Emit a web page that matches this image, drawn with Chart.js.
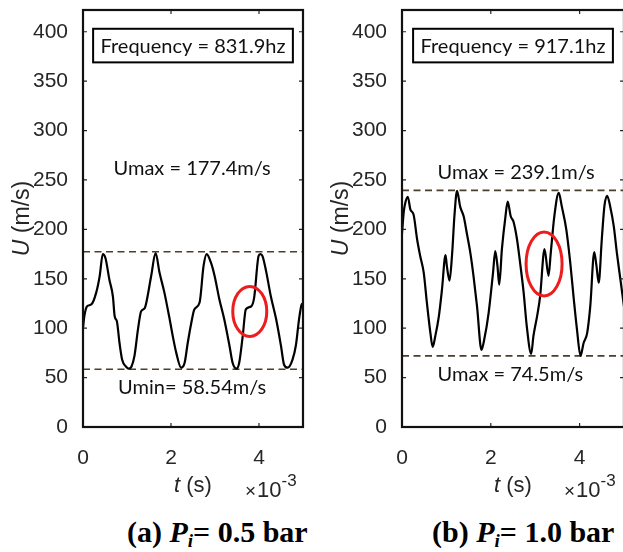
<!DOCTYPE html>
<html><head><meta charset="utf-8">
<script src="https://cdn.jsdelivr.net/npm/chart.js@4.4.1/dist/chart.umd.min.js"></script>
<style>
html,body{margin:0;padding:0;background:#fff;overflow:hidden;width:623px;height:552px;}
#wrap{position:relative;width:623px;height:552px;overflow:hidden;}
canvas{position:absolute;top:0;}
.cap{position:absolute;font-family:"Liberation Serif","Times New Roman",serif;font-weight:bold;font-size:30px;color:#000;white-space:nowrap;top:516px;line-height:32px;}
.cap sub{font-size:19px;vertical-align:-5px;}
</style></head><body>
<div id="wrap">
<canvas id="ca" width="312" height="515" style="left:0"></canvas>
<canvas id="cb" width="312" height="515" style="left:312px"></canvas>
<div class="cap" style="left:127px">(a) <i>P<sub>i</sub></i>= 0.5 bar</div>
<div class="cap" style="left:432px">(b) <i>P<sub>i</sub></i>= 1.0 bar</div>
</div>
<script>
// time in units of 1e-3 s
const tA = [0,0.03,0.09,0.19,0.30,0.38,0.45,0.51,0.60,0.68,0.72,0.77,0.83,0.89,0.98,1.04,1.10,1.17,1.25,1.32,1.40,1.44,1.55,1.65,1.74,1.85,1.97,2.04,2.12,2.23,2.31,2.38,2.46,2.53,2.65,2.74,2.81,2.91,2.99,3.10,3.21,3.33,3.40,3.49,3.55,3.63,3.70,3.82,3.89,3.99,4.03,4.08,4.16,4.27,4.39,4.50,4.57,4.65,4.76,4.84,4.91,4.97,5.0];
const uA = [100,112,122,124,136,153,175,171,149,132,112,107,85,68,61,59,61,72,99,117,120,126,153,176,156,136,109,92,75,60,65,85,105,119,126,163,175,166,153,129,109,82,65,59,65,92,119,122,131,173,175,173,158,132,109,82,63,60,68,83,109,124,125];
const tB = [0,0.04,0.075,0.13,0.19,0.26,0.34,0.41,0.49,0.56,0.64,0.69,0.75,0.83,0.90,0.98,1.01,1.07,1.13,1.18,1.24,1.31,1.39,1.46,1.54,1.61,1.69,1.79,1.85,1.95,2.05,2.10,2.15,2.19,2.25,2.33,2.38,2.45,2.51,2.59,2.66,2.74,2.81,2.91,2.96,3.05,3.11,3.21,3.30,3.35,3.43,3.53,3.60,3.70,3.79,3.87,3.94,4.02,4.09,4.17,4.24,4.33,4.38,4.43,4.50,4.56,4.62,4.69,4.77,4.84,4.92,5.0];
const uB = [196,218,227,233,220,215,190,173,156,126,95,81,92,112,139,174,163,148,176,213,239,223,213,196,176,153,122,78,88,115,156,178,163,144,180,213,228,213,208,190,166,136,102,74,92,114,132,180,153,176,213,237,223,200,166,129,99,72,85,95,122,177,163,146,190,224,234,223,203,176,149,122];
const refLinesA = [177.4, 58.5];
const refLinesB = [239.5, 72];
const yTickValues = [0,50,100,150,200,250,300,350,400];
const xTickValues = [0,2,4];
const freqTextA = 'Frequency = 831.9hz';
const freqTextB = 'Frequency = 917.1hz';
const upperTextA = 'Umax = 177.4m/s';
const lowerTextA = 'Umin= 58.54m/s';
const upperTextB = 'Umax = 239.1m/s';
const lowerTextB = 'Umax = 74.5m/s';

const TICKFONT = '"Liberation Sans", Arial, sans-serif';
const NOTEFONT = 'Lato, "Open Sans", sans-serif';

const deco = {
  id: 'deco',
  afterDraw(chart, args, o) {
    const {ctx, chartArea: a, scales: {x, y}} = chart;
    ctx.save();
    // inward tick marks
    ctx.strokeStyle = '#262626'; ctx.lineWidth = 1.2;
    ctx.beginPath();
    y.ticks.forEach(t => {
      const py = y.getPixelForValue(t.value);
      ctx.moveTo(a.left, py); ctx.lineTo(a.left + 4, py);
      ctx.moveTo(a.right, py); ctx.lineTo(a.right - 4, py);
    });
    x.ticks.forEach(t => {
      const px = x.getPixelForValue(t.value);
      ctx.moveTo(px, a.bottom); ctx.lineTo(px, a.bottom - 4);
      ctx.moveTo(px, a.top); ctx.lineTo(px, a.top + 4);
    });
    ctx.stroke();
    // axes box
    ctx.lineWidth = 2.2; ctx.strokeStyle = '#111';
    ctx.strokeRect(a.left, a.top, a.right - a.left, a.bottom - a.top);
    // red ellipse
    ctx.strokeStyle = '#ee1c1c'; ctx.lineWidth = 3;
    ctx.beginPath();
    ctx.ellipse(x.getPixelForValue(o.ell[0]), y.getPixelForValue(o.ell[1]), o.ell[2], o.ell[3], 0, 0, Math.PI * 2);
    ctx.stroke();
    // frequency box
    const bx1 = x.getPixelForValue(o.box[0]), bx2 = x.getPixelForValue(o.box[1]);
    const by1 = y.getPixelForValue(o.box[3]), by2 = y.getPixelForValue(o.box[2]);
    ctx.strokeStyle = '#000'; ctx.lineWidth = 2;
    ctx.strokeRect(bx1, by1, bx2 - bx1, by2 - by1);
    ctx.fillStyle = '#111';
    ctx.textAlign = 'center'; ctx.textBaseline = 'middle';
    ctx.font = '20px ' + NOTEFONT;
    ctx.fillText(o.freq, (bx1 + bx2) / 2, (by1 + by2) / 2 + 1);
    ctx.fillText(o.up[0], x.getPixelForValue(o.up[1]), y.getPixelForValue(o.up[2]));
    ctx.fillText(o.lo[0], x.getPixelForValue(o.lo[1]), y.getPixelForValue(o.lo[2]));
    // y title: italic U + " (m/s)"
    ctx.fillStyle = '#262626';
    ctx.save();
    ctx.translate(a.left - 60, (a.top + a.bottom) / 2);
    ctx.rotate(-Math.PI / 2);
    ctx.font = 'italic 23px ' + TICKFONT;
    const w1 = ctx.measureText('U').width;
    ctx.font = '23px ' + TICKFONT;
    const w2 = ctx.measureText(' (m/s)').width;
    ctx.textAlign = 'left';
    ctx.font = 'italic 23px ' + TICKFONT;
    ctx.fillText('U', -(w1 + w2) / 2, 0);
    ctx.font = '23px ' + TICKFONT;
    ctx.fillText(' (m/s)', -(w1 + w2) / 2 + w1, 0);
    ctx.restore();
    // x title: italic t + " (s)"
    const cx = (a.left + o.xTitleRight) / 2;
    ctx.textAlign = 'left';
    ctx.font = 'italic 22px ' + TICKFONT;
    const v1 = ctx.measureText('t').width;
    ctx.font = '22px ' + TICKFONT;
    const v2 = ctx.measureText(' (s)').width;
    ctx.font = 'italic 22px ' + TICKFONT;
    ctx.fillText('t', cx - (v1 + v2) / 2, a.bottom + 59);
    ctx.font = '22px ' + TICKFONT;
    ctx.fillText(' (s)', cx - (v1 + v2) / 2 + v1, a.bottom + 59);
    // x10^-3 multiplier
    const mx = a.left + 162;
    ctx.font = '19px ' + TICKFONT;
    ctx.fillText('\u00d7', mx, a.bottom + 65);
    const wx = ctx.measureText('\u00d7').width;
    ctx.font = '22px ' + TICKFONT;
    ctx.fillText('10', mx + wx + 1, a.bottom + 64);
    const w10 = ctx.measureText('10').width;
    ctx.font = '17px ' + TICKFONT;
    ctx.fillText('-3', mx + wx + 1 + w10, a.bottom + 54);
    ctx.restore();
  }
};

function makeChart(id, ts, us, refs, yAxisW, padRight, deco_opts) {
  const curve = ts.map((t, i) => ({x: t, y: us[i]}));
  const refSets = refs.map(v => ({
    data: [{x: 0, y: v}, {x: 5, y: v}],
    borderColor: '#4a3f2b', borderWidth: 1.6, borderDash: [7, 4.5],
    pointRadius: 0, fill: false
  }));
  return new Chart(document.getElementById(id), {
    type: 'line',
    data: {datasets: [
      {data: curve, borderColor: '#000', borderWidth: 2.2, pointRadius: 0, fill: false, tension: 0.35, cubicInterpolationMode: 'monotone'},
      ...refSets
    ]},
    options: {
      responsive: false, animation: false, devicePixelRatio: 1,
      layout: {padding: {top: 10, right: padRight, left: 0, bottom: 0}},
      plugins: {legend: {display: false}, tooltip: {enabled: false}, deco: deco_opts},
      scales: {
        x: {
          type: 'linear', min: 0, max: 5,
          grid: {display: false}, border: {display: false},
          ticks: {font: {family: TICKFONT, size: 21}, color: '#262626', padding: 11, maxRotation: 0},
          afterBuildTicks: s => { s.ticks = xTickValues.map(v => ({value: v})); },
          afterFit: s => { s.height = 515 - 427; s.paddingLeft = 0; s.paddingRight = 0; }
        },
        y: {
          type: 'linear', min: 0, max: 422,
          grid: {display: false}, border: {display: false},
          ticks: {font: {family: TICKFONT, size: 21}, color: '#262626', padding: 7},
          afterBuildTicks: s => { s.ticks = yTickValues.map(v => ({value: v})); },
          afterFit: s => { s.width = yAxisW; s.paddingTop = 0; s.paddingBottom = 0; }
        }
      }
    },
    plugins: [deco]
  });
}

makeChart('ca', tA, uA, refLinesA, 83, 9, {
  ell: [3.79, 117, 17, 25],
  box: [0.23, 4.77, 369, 403],
  freq: freqTextA,
  up: [upperTextA, 2.48, 262],
  lo: [lowerTextA, 2.48, 39.5],
  xTitleRight: 303
});
makeChart('cb', tB, uB, refLinesB, 90, 0, {
  ell: [3.20, 165, 18, 32],
  box: [0.25, 4.75, 369, 403],
  freq: freqTextB,
  up: [upperTextB, 2.57, 257],
  lo: [lowerTextB, 2.44, 52.6],
  xTitleRight: 312
});
</script>
</body></html>
